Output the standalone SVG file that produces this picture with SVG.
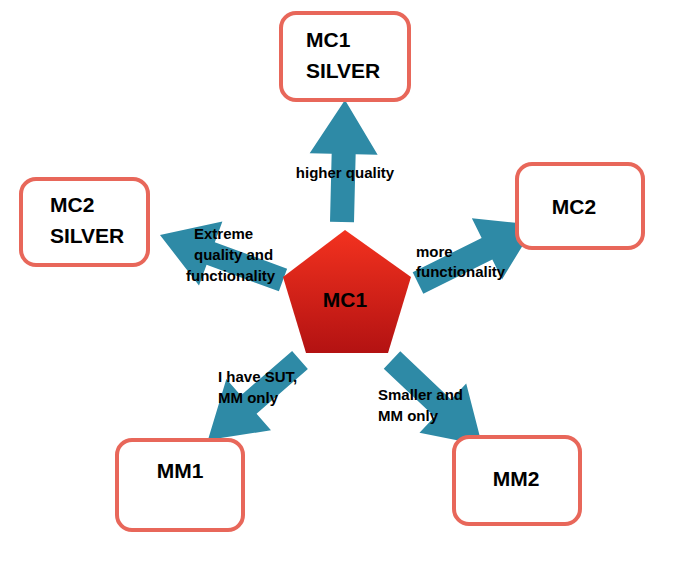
<svg xmlns="http://www.w3.org/2000/svg" width="680" height="566" viewBox="0 0 680 566">
<style>
.box{fill:#fff;stroke:#e8675a;stroke-width:4}
.arr{fill:#2e8aa6}
.t{font-family:"Liberation Sans",Arial,sans-serif;font-weight:bold;fill:#000}
.bt{font-size:21px}
.lt{font-size:15px}
</style>
<defs>
<linearGradient id="g" x1="0" y1="0" x2="0" y2="1">
<stop offset="0" stop-color="#f3321f"/><stop offset="1" stop-color="#b31212"/>
</linearGradient>
</defs>
<rect width="680" height="566" fill="#fff"/>
<g id="connectors">
<path class="arr" transform="translate(342,222) rotate(-88.6)" d="M0,-12 L68,-12 L68,-34 L122,0 L68,34 L68,12 L0,12 Z"/>
<path class="arr" transform="translate(418,283) rotate(-26.4)" d="M0,-12 L77,-12 L77,-34 L131,0 L77,34 L77,12 L0,12 Z"/>
<path class="arr" transform="translate(283,280) rotate(200.1)" d="M0,-12 L77,-12 L77,-34 L131,0 L77,34 L77,12 L0,12 Z"/>
<path class="arr" transform="translate(300,360) rotate(139)" d="M0,-12 L68,-12 L68,-34 L122,0 L68,34 L68,12 L0,12 Z"/>
<path class="arr" transform="translate(392,360) rotate(43.4)" d="M0,-12 L70,-12 L70,-34 L124,0 L70,34 L70,12 L0,12 Z"/>
</g>
<g id="labels" class="t lt">
<text x="345" y="178" text-anchor="middle">higher quality</text>
<text x="194" y="239">Extreme</text>
<text x="194" y="260">quality and</text>
<text x="186" y="281">functionality</text>
<text x="416" y="257">more</text>
<text x="416" y="277">functionality</text>
<text x="218" y="382">I have SUT,</text>
<text x="218" y="403">MM only</text>
<text x="378" y="400">Smaller and</text>
<text x="378" y="421">MM only</text>
</g>
<g id="MC1"><polygon points="345,230 411,277 388,353 306,353 283,277" fill="url(#g)"/>
<text class="t" x="345" y="307" text-anchor="middle" font-size="21">MC1</text></g>
<g id="MC1SILVER"><rect class="box" x="281" y="13" width="128" height="87" rx="15"/>
<text class="t bt" x="306" y="47">MC1</text><text class="t bt" x="306" y="78">SILVER</text></g>
<g id="MC2SILVER"><rect class="box" x="21" y="179" width="127" height="86" rx="15"/>
<text class="t bt" x="50" y="212">MC2</text><text class="t bt" x="50" y="243">SILVER</text></g>
<g id="MC2"><rect class="box" x="517" y="164" width="126" height="84" rx="15"/>
<text class="t bt" x="574" y="214" text-anchor="middle">MC2</text></g>
<g id="MM1"><rect class="box" x="117" y="440" width="126" height="90" rx="15"/>
<text class="t bt" x="180" y="478" text-anchor="middle">MM1</text></g>
<g id="MM2"><rect class="box" x="454" y="437" width="126" height="87" rx="15"/>
<text class="t bt" x="516" y="486" text-anchor="middle">MM2</text></g>
</svg>
